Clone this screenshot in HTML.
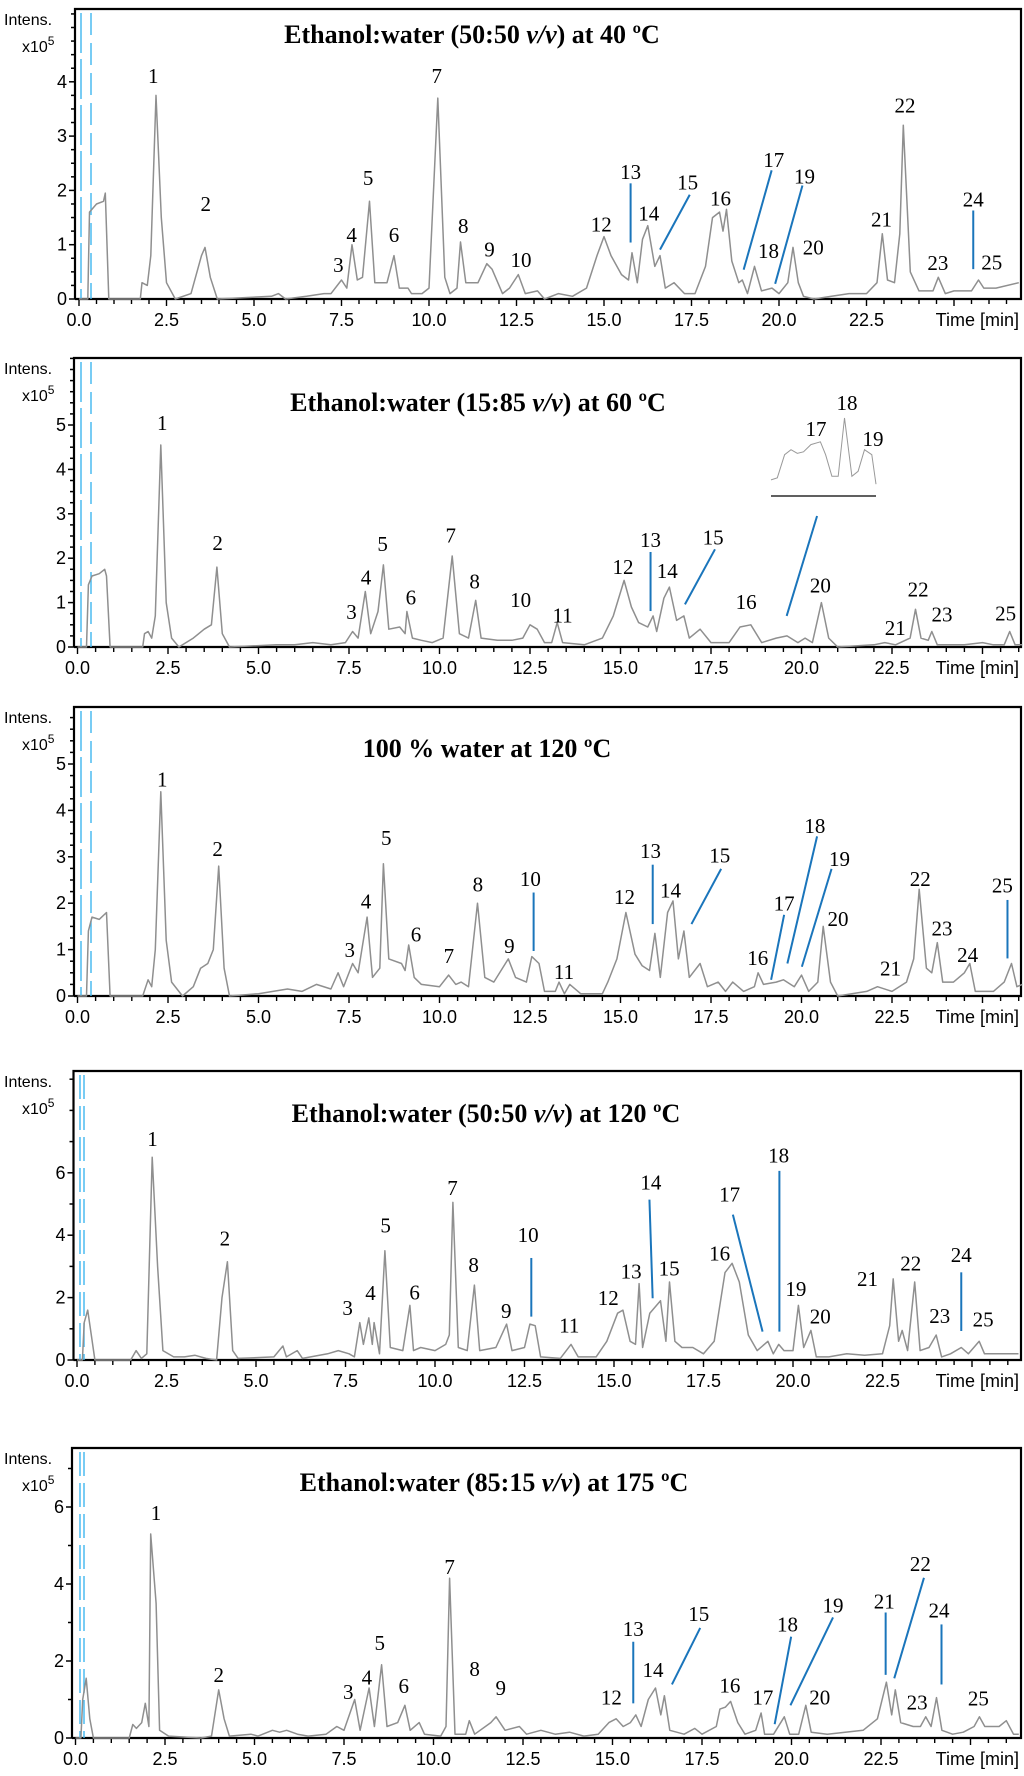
<!DOCTYPE html>
<html><head><meta charset="utf-8"><style>
html,body{margin:0;padding:0;background:#fff}
svg{display:block}
.tk{font-family:"Liberation Sans",sans-serif;font-size:18px;fill:#000}
.ttl{font-family:"Liberation Serif",serif;font-weight:bold;font-size:26px;fill:#000}
.pk{font-family:"Liberation Serif",serif;font-size:21px;fill:#000}
</style></head><body>
<svg id="chart" width="1024" height="1776" viewBox="0 0 1024 1776" xmlns="http://www.w3.org/2000/svg"></svg>
<script>
// ---------- DATA (time [min], intensity [x10^5]) ----------
const titles = ["Ethanol:water  (50:50 |v/v|) at 40 ºC","Ethanol:water  (15:85 |v/v|) at 60 ºC","100 % water at 120 ºC","Ethanol:water  (50:50 |v/v|) at 120 ºC","Ethanol:water  (85:15 |v/v|) at 175 ºC"];
const xTickLabels = ["0.0","2.5","5.0","7.5","10.0","12.5","15.0","17.5","20.0","22.5"];
const yTicks1 = [0,1,2,3,4];
const yTicks2 = [0,1,2,3,4,5];
const yTicks3 = [0,1,2,3,4,5];
const yTicks4 = [0,2,4,6];
const yTicks5 = [0,2,4,6];

const p1Trace = [[0,0],[0.25,0],[0.3,1.6],[0.5,1.75],[0.7,1.8],[0.75,1.95],[0.85,0],[1.75,0],[1.8,0.3],[1.95,0.25],[2.05,0.8],[2.2,3.75],[2.35,1.5],[2.5,0.3],[2.75,0],[3.2,0.1],[3.5,0.8],[3.6,0.95],[3.75,0.4],[3.95,0],[5.5,0.05],[5.7,0.1],[5.9,0],[6.5,0.05],[7,0.1],[7.2,0.1],[7.5,0.35],[7.65,0.2],[7.8,1.0],[7.95,0.35],[8.1,0.4],[8.3,1.8],[8.45,0.3],[8.8,0.3],[9.0,0.8],[9.15,0.2],[9.4,0.2],[9.5,0.1],[9.8,0.1],[10.0,0.2],[10.25,3.7],[10.45,0.4],[10.6,0.1],[10.8,0.2],[10.9,1.05],[11.05,0.3],[11.4,0.3],[11.65,0.65],[11.8,0.55],[12.1,0.1],[12.3,0.2],[12.55,0.45],[12.75,0.1],[13.1,0.15],[13.3,0],[13.7,0.1],[14.1,0.05],[14.5,0.2],[14.8,0.8],[15.0,1.15],[15.2,0.8],[15.5,0.45],[15.7,0.35],[15.8,0.85],[15.95,0.3],[16.1,1.1],[16.25,1.35],[16.45,0.6],[16.6,0.8],[16.75,0.2],[17.0,0.3],[17.3,0.1],[17.6,0.1],[17.9,0.6],[18.1,1.5],[18.3,1.6],[18.4,1.25],[18.5,1.65],[18.65,0.7],[18.85,0.3],[18.95,0.35],[19.1,0.1],[19.3,0.6],[19.5,0.15],[19.8,0.2],[20.0,0.1],[20.25,0.3],[20.4,0.95],[20.55,0.3],[20.7,0.05],[21.0,0],[21.5,0.05],[22,0.1],[22.5,0.1],[22.8,0.3],[22.95,1.2],[23.1,0.35],[23.3,0.3],[23.45,1.2],[23.55,3.2],[23.75,0.5],[24.0,0.15],[24.4,0.15],[24.55,0.4],[24.75,0.1],[25.0,0.15],[25.5,0.15],[25.7,0.35],[25.85,0.2],[26.2,0.2],[26.85,0.3]];
const p1Labels = [[1,2.12,4.11],[2,3.62,1.75],[3,7.41,0.63],[4,7.79,1.18],[5,8.26,2.23],[6,9.0,1.18],[7,10.22,4.11],[8,10.98,1.34],[9,11.73,0.91],[10,12.63,0.72],[12,14.92,1.37],[13,15.76,2.34],[14,16.28,1.57],[15,17.39,2.15],[16,18.33,1.85],[17,19.85,2.56],[18,19.7,0.88],[19,20.73,2.26],[20,20.98,0.95],[21,22.93,1.46],[22,23.6,3.56],[23,24.54,0.66],[24,25.55,1.83],[25,26.08,0.67]];
const p1Leaders = [[15.76,2.13,15.76,1.04],[17.45,1.92,16.6,0.91],[19.79,2.37,18.99,0.54],[20.67,2.09,19.89,0.28],[25.55,1.63,25.55,0.55]];

const p2Trace = [[0,0],[0.25,0],[0.3,1.4],[0.4,1.6],[0.6,1.65],[0.75,1.75],[0.8,1.6],[0.9,0],[1.8,0],[1.85,0.3],[1.95,0.35],[2.05,0.2],[2.15,0.7],[2.3,4.55],[2.45,1.0],[2.6,0.2],[2.8,0],[3.2,0.2],[3.5,0.4],[3.7,0.5],[3.85,1.8],[4.0,0.3],[4.2,0],[5.5,0.05],[6.0,0.05],[6.5,0.1],[7.0,0.05],[7.4,0.1],[7.6,0.35],[7.75,0.2],[7.95,1.25],[8.1,0.3],[8.3,0.8],[8.45,1.85],[8.6,0.4],[8.9,0.45],[9.05,0.3],[9.1,0.8],[9.25,0.2],[9.5,0.15],[9.8,0.1],[10.1,0.2],[10.35,2.05],[10.55,0.3],[10.8,0.2],[11.0,1.05],[11.15,0.2],[11.6,0.15],[12.0,0.15],[12.3,0.2],[12.5,0.5],[12.7,0.4],[12.9,0.1],[13.1,0.1],[13.25,0.55],[13.4,0.1],[14,0.05],[14.5,0.2],[14.8,0.7],[15.1,1.5],[15.3,0.9],[15.5,0.55],[15.75,0.45],[15.9,0.7],[16.0,0.35],[16.2,1.1],[16.35,1.35],[16.55,0.6],[16.75,0.7],[16.9,0.2],[17.2,0.4],[17.5,0.1],[18,0.1],[18.3,0.45],[18.6,0.5],[18.9,0.1],[19.3,0.2],[19.6,0.25],[19.9,0.1],[20.1,0.2],[20.3,0.1],[20.55,1.0],[20.75,0.2],[21,0],[22,0.05],[22.3,0.1],[22.6,0.05],[23.0,0.2],[23.15,0.85],[23.3,0.2],[23.5,0.15],[23.6,0.35],[23.75,0.05],[24.5,0.05],[25.0,0.1],[25.3,0.05],[25.6,0.05],[25.75,0.35],[25.9,0.05],[26.1,0.05]];
const p2Labels = [[1,2.34,5.04],[2,3.87,2.34],[3,7.57,0.79],[4,7.97,1.57],[5,8.43,2.32],[6,9.21,1.11],[7,10.31,2.51],[8,10.97,1.48],[10,12.24,1.06],[11,13.4,0.71],[12,15.07,1.8],[13,15.83,2.41],[14,16.29,1.71],[15,17.56,2.47],[16,18.47,1.01],[20,20.52,1.39],[21,22.59,0.43],[22,23.22,1.3],[23,23.88,0.73],[25,25.64,0.75]];
const p2Leaders = [[15.83,2.14,15.83,0.81],[17.61,2.2,16.78,0.96],[20.43,2.95,19.59,0.7]];
const insetPos = [0,0.06,0.13,0.19,0.25,0.31,0.38,0.47,0.52,0.58,0.64,0.7,0.77,0.83,0.89,0.96,1];
const insetVal = [0.14,0.17,0.49,0.56,0.51,0.53,0.63,0.67,0.49,0.19,0.19,1,0.19,0.26,0.56,0.49,0.08];

const p3Trace = [[0,0],[0.25,0],[0.3,1.4],[0.4,1.7],[0.6,1.65],[0.8,1.8],[0.9,0],[1.8,0],[1.95,0.35],[2.05,0.2],[2.15,1.0],[2.3,4.4],[2.45,1.2],[2.6,0.3],[2.9,0],[3.2,0.2],[3.4,0.6],[3.6,0.7],[3.75,1.0],[3.9,2.8],[4.05,0.6],[4.2,0],[5,0.05],[5.8,0.15],[6.2,0.1],[6.6,0.25],[7.0,0.15],[7.2,0.5],[7.35,0.2],[7.6,0.7],[7.75,0.5],[8.0,1.7],[8.15,0.4],[8.35,0.6],[8.45,2.85],[8.6,0.8],[8.95,0.7],[9.05,0.55],[9.15,1.1],[9.3,0.4],[9.5,0.25],[10,0.2],[10.25,0.45],[10.45,0.25],[10.6,0.3],[10.8,0.2],[11.05,2.0],[11.25,0.4],[11.5,0.3],[11.9,0.8],[12.1,0.4],[12.4,0.3],[12.55,0.85],[12.75,0.7],[12.9,0.1],[13.2,0.1],[13.3,0.3],[13.45,0.05],[13.6,0.25],[13.9,0.05],[14.5,0.05],[14.65,0.3],[14.9,0.8],[15.15,1.8],[15.4,0.9],[15.6,0.65],[15.8,0.55],[15.95,1.35],[16.1,0.4],[16.3,1.8],[16.45,2.05],[16.6,0.8],[16.75,1.4],[16.9,0.4],[17.2,0.7],[17.4,0.2],[17.7,0.3],[17.9,0.1],[18.1,0.3],[18.4,0.1],[18.7,0.2],[18.8,0.5],[18.95,0.25],[19.3,0.3],[19.5,0.35],[19.8,0.2],[20,0.45],[20.2,0.1],[20.45,0.3],[20.6,1.5],[20.8,0.3],[21,0],[21.8,0.1],[22.1,0.2],[22.5,0.1],[22.9,0.3],[23.1,0.8],[23.25,2.3],[23.45,0.6],[23.6,0.5],[23.75,1.15],[23.9,0.3],[24.2,0.3],[24.5,0.5],[24.65,0.7],[24.8,0.1],[25.3,0.1],[25.6,0.3],[25.8,0.7],[25.95,0.2],[26.1,0.25]];
const p3Labels = [[1,2.34,4.67],[2,3.87,3.17],[3,7.52,0.99],[4,7.97,2.04],[5,8.53,3.41],[6,9.35,1.33],[7,10.26,0.86],[8,11.06,2.4],[9,11.93,1.08],[10,12.51,2.52],[11,13.44,0.52],[12,15.11,2.13],[13,15.83,3.12],[14,16.38,2.27],[15,17.74,3.03],[16,18.79,0.82],[17,19.52,1.99],[18,20.37,3.66],[19,21.05,2.95],[20,21.01,1.66],[21,22.46,0.59],[22,23.28,2.52],[23,23.88,1.46],[24,24.59,0.88],[25,25.55,2.38]];
const p3Leaders = [[12.6,2.23,12.6,0.97],[15.89,2.83,15.89,1.55],[17.78,2.74,16.96,1.55],[19.52,1.75,19.16,0.35],[20.43,3.44,19.61,0.7],[20.83,2.74,20.01,0.63],[25.69,2.07,25.69,0.81]];

const p4Trace = [[0,0],[0.15,0],[0.2,1.2],[0.3,1.6],[0.4,0.8],[0.5,0],[1.5,0],[1.65,0.3],[1.8,0.05],[1.95,0.2],[2.1,6.5],[2.25,3.0],[2.4,0.3],[2.7,0.1],[3.0,0.1],[3.3,0.15],[3.6,0.05],[3.9,0],[4.05,2.0],[4.2,3.15],[4.35,0.3],[4.5,0.05],[5.5,0.1],[5.75,0.45],[5.85,0.1],[6.15,0.3],[6.3,0.05],[7.0,0.2],[7.3,0.3],[7.6,0.2],[7.75,0.1],[7.9,1.2],[8.0,0.5],[8.15,1.35],[8.25,0.5],[8.3,1.2],[8.45,0.2],[8.6,3.5],[8.75,0.4],[9.1,0.3],[9.3,1.75],[9.4,0.3],[9.6,0.4],[10.0,0.3],[10.3,0.5],[10.4,0.8],[10.5,5.05],[10.65,0.4],[10.9,0.3],[11.1,2.4],[11.25,0.3],[11.7,0.4],[11.9,0.9],[12.0,1.15],[12.15,0.3],[12.5,0.4],[12.65,1.15],[12.8,1.1],[12.95,0.1],[13.5,0.05],[13.8,0.5],[14.0,0.1],[14.5,0.1],[14.8,0.6],[15.1,1.5],[15.25,1.6],[15.45,0.6],[15.6,0.5],[15.7,2.45],[15.8,0.4],[16.0,1.5],[16.3,1.9],[16.45,0.6],[16.55,2.5],[16.7,0.6],[16.9,0.4],[17.2,0.4],[17.5,0.2],[17.8,0.6],[18.1,2.8],[18.3,3.1],[18.5,2.5],[18.75,0.8],[19.0,0.3],[19.3,0.6],[19.45,0.2],[19.6,0.5],[19.75,0.3],[20.0,0.3],[20.15,1.75],[20.3,0.4],[20.5,0.95],[20.65,0.1],[21,0.1],[21.5,0.2],[22,0.15],[22.5,0.2],[22.7,1.1],[22.8,2.6],[22.95,0.6],[23.05,0.95],[23.2,0.3],[23.4,2.5],[23.55,0.3],[23.8,0.4],[24.0,0.8],[24.15,0.1],[24.4,0.2],[24.7,0.4],[24.9,0.2],[25.2,0.6],[25.35,0.2],[25.8,0.2],[26.3,0.2]];
const p4Labels = [[1,2.11,7.08],[2,4.13,3.9],[3,7.56,1.66],[4,8.2,2.14],[5,8.62,4.31],[6,9.43,2.16],[7,10.49,5.51],[8,11.08,3.05],[9,11.99,1.57],[10,12.6,4.01],[11,13.75,1.1],[12,14.84,1.98],[13,15.48,2.83],[14,16.03,5.69],[15,16.54,2.94],[16,17.95,3.42],[17,18.23,5.3],[18,19.6,6.55],[19,20.08,2.27],[20,20.76,1.39],[21,22.08,2.59],[22,23.29,3.1],[23,24.1,1.41],[24,24.7,3.37],[25,25.31,1.3]];
const p4Leaders = [[12.69,3.27,12.69,1.39],[15.99,5.14,16.08,1.98],[18.32,4.66,19.15,0.91],[19.62,6.06,19.62,0.91],[24.7,2.81,24.7,0.93]];

const p5Trace = [[0,0],[0.15,0],[0.2,1.0],[0.3,1.55],[0.4,0.5],[0.5,0],[1.5,0],[1.6,0.35],[1.7,0.25],[1.85,0.4],[1.95,0.9],[2.05,0.3],[2.1,5.3],[2.25,3.5],[2.35,0.2],[2.6,0.05],[3.5,0],[3.8,0.05],[4.0,1.25],[4.15,0.5],[4.3,0.05],[4.9,0.1],[5.1,0.05],[5.5,0.2],[5.7,0.15],[5.9,0.2],[6.2,0.1],[6.5,0.05],[7,0.1],[7.3,0.3],[7.5,0.2],[7.8,1.0],[7.95,0.2],[8.2,1.3],[8.35,0.3],[8.55,1.9],[8.7,0.3],[9.0,0.4],[9.2,0.85],[9.35,0.2],[9.6,0.4],[9.75,0.1],[10.2,0.05],[10.35,0.3],[10.45,4.15],[10.6,0.1],[10.9,0.1],[11.0,0.45],[11.15,0.1],[11.6,0.4],[11.75,0.55],[12.0,0.2],[12.4,0.3],[12.6,0.1],[13.0,0.2],[13.4,0.1],[13.8,0.15],[14.2,0.05],[14.6,0.1],[14.9,0.4],[15.1,0.5],[15.3,0.3],[15.5,0.4],[15.65,0.6],[15.8,0.3],[16.0,1.0],[16.2,1.3],[16.35,0.6],[16.45,1.1],[16.6,0.2],[17.0,0.1],[17.3,0.25],[17.5,0.1],[17.9,0.3],[18.0,0.75],[18.15,0.8],[18.3,0.95],[18.5,0.4],[18.7,0.1],[19.0,0.2],[19.15,0.65],[19.25,0.1],[19.5,0.1],[19.8,0.55],[19.95,0.1],[20.2,0.1],[20.4,0.85],[20.55,0.15],[21,0.1],[21.5,0.15],[22.0,0.2],[22.4,0.5],[22.65,1.45],[22.8,0.6],[22.9,1.25],[23.05,0.4],[23.4,0.3],[23.6,0.3],[23.75,0.55],[23.9,0.3],[24.05,1.05],[24.2,0.2],[24.5,0.1],[24.8,0.15],[25.1,0.3],[25.25,0.55],[25.4,0.3],[25.8,0.3],[26.0,0.45],[26.2,0.1],[26.35,0.1]];
const p5Labels = [[1,2.25,5.84],[2,4.0,1.64],[3,7.62,1.19],[4,8.14,1.57],[5,8.5,2.47],[6,9.17,1.35],[7,10.45,4.44],[8,11.15,1.79],[9,11.88,1.3],[12,14.97,1.05],[13,15.58,2.83],[14,16.13,1.77],[15,17.41,3.22],[16,18.28,1.37],[17,19.2,1.05],[18,19.89,2.95],[19,21.16,3.44],[20,20.79,1.05],[21,22.59,3.55],[22,23.6,4.52],[23,23.51,0.92],[24,24.12,3.31],[25,25.22,1.03]];
const p5Leaders = [[15.58,2.5,15.58,0.9],[17.45,2.86,16.66,1.39],[19.99,2.63,19.53,0.36],[21.16,3.13,19.97,0.85],[22.63,3.26,22.63,1.64],[23.7,4.16,22.87,1.55],[24.19,2.95,24.19,1.39]];

// ---------- GEOMETRY ----------
const panels = [
 {trace:p1Trace,labels:p1Labels,leaders:p1Leaders,yTicks:yTicks1,minor:0.25,top:9,axisY:299,left:75,x0:79,pxMin:35,pxUnit:54.3,titleX:472,titleY:43,dbl:false},
 {trace:p2Trace,labels:p2Labels,leaders:p2Leaders,yTicks:yTicks2,minor:0.25,top:358,axisY:647,left:74,x0:77.5,pxMin:36.2,pxUnit:44.4,titleX:478,titleY:411,dbl:false,inset:true},
 {trace:p3Trace,labels:p3Labels,leaders:p3Leaders,yTicks:yTicks3,minor:0.25,top:707,axisY:996,left:74,x0:77.5,pxMin:36.2,pxUnit:46.4,titleX:487,titleY:757,dbl:false},
 {trace:p4Trace,labels:p4Labels,leaders:p4Leaders,yTicks:yTicks4,minor:1,top:1071,axisY:1360,left:73.5,x0:77,pxMin:35.8,pxUnit:31.2,titleX:486,titleY:1122,dbl:true},
 {trace:p5Trace,labels:p5Labels,leaders:p5Leaders,yTicks:yTicks5,minor:1,top:1448,axisY:1738,left:72,x0:75.5,pxMin:35.8,pxUnit:38.5,titleX:494,titleY:1491,dbl:true}
];
const RIGHT = 1021;
const NS = "http://www.w3.org/2000/svg";
const svg = document.getElementById('chart');
function mk(tag, attrs, parent){const e=document.createElementNS(NS,tag);for(const k in attrs)e.setAttribute(k,attrs[k]);(parent||svg).appendChild(e);return e;}

panels.forEach((p,i)=>{
  const g = mk('g',{});
  
  
  const X = t => p.x0 + t*p.pxMin;
  const Y = v => p.axisY - v*p.pxUnit;
  const fr = mk('path',{d:`M${p.left},${p.axisY} V${p.top} H${RIGHT} V${p.axisY} H${p.left}`,fill:'none',stroke:'#000','stroke-width':2.2},g);
  
  
  const bx = p.dbl ? [80,84] : [81,91];
  bx.forEach((x,j)=>{
    const l = mk('line',{x1:x,x2:x,y1:p.top+4,y2:p.axisY,stroke:'#3fb7f0','stroke-width':1.4,'stroke-dasharray':(p.dbl?'24,7':(j? '22,8':'40,6'))},g);
    
    
  });
  const yMaxV = (p.axisY - p.top)/p.pxUnit;
  for(let v=0; v<=yMaxV; v+=p.minor){
    const major = Math.abs(v-Math.round(v))<1e-6 && p.yTicks.includes(Math.round(v));
    mk('line',{x1:p.left-(major?6:4),x2:p.left,y1:Y(v),y2:Y(v),stroke:'#000','stroke-width':1.5},g);
  }
  p.yTicks.forEach(v=>{
    const t = mk('text',{x:p.left-8,y:Y(v)+6,'text-anchor':'end',class:'tk'},g);
    t.textContent = v;
    
    
  });
  const it = mk('text',{x:4,y:p.top+16,class:'tk',style:'font-size:16px'},g);
  it.textContent='Intens.';
  
  
  const xs = mk('text',{x:22,y:p.top+43,class:'tk',style:'font-size:16px'},g);
  xs.innerHTML='x10<tspan dy="-7" style="font-size:12px">5</tspan>';
  
  
  for(let t=0; X(t) < RIGHT-2; t+=0.5){
    const major = Math.abs(t/2.5 - Math.round(t/2.5))<1e-6;
    mk('line',{x1:X(t),x2:X(t),y1:p.axisY,y2:p.axisY+(major?7:5),stroke:'#000','stroke-width':1.4},g);
  }
  xTickLabels.forEach((lab,k)=>{
    const t = mk('text',{x:X(k*2.5),y:p.axisY+27,'text-anchor':'middle',class:'tk'},g);
    t.textContent = lab;
    
    
  });
  const tl = mk('text',{x:RIGHT-2,y:p.axisY+27,'text-anchor':'end',class:'tk'},g);
  tl.textContent='Time [min]';
  
  
  const parts = titles[i].split('|');
  const ti = mk('text',{x:p.titleX,y:p.titleY,'text-anchor':'middle',class:'ttl'},g);
  ti.setAttribute('xml:space','preserve');
  ti.innerHTML = parts.length>1 ? `${parts[0]}<tspan font-style="italic">${parts[1]}</tspan>${parts[2]}` : parts[0];
  
  
  const d = p.trace.map((pt,k)=>(k?'L':'M')+X(pt[0]).toFixed(1)+','+Y(pt[1]).toFixed(1)).join(' ');
  const tr = mk('path',{d:d,fill:'none',stroke:'#8f8f8f','stroke-width':1.5,'stroke-linejoin':'round'},g);
  
  
  p.leaders.forEach(L=>{
    const l = mk('line',{x1:X(L[0]),y1:Y(L[1]),x2:X(L[2]),y2:Y(L[3]),stroke:'#1a75bb','stroke-width':2},g);
    
    
  });
  p.labels.forEach(L=>{
    const t = mk('text',{x:X(L[1]),y:Y(L[2])+7,'text-anchor':'middle',class:'pk'},g);
    t.textContent = L[0];
    
    
  });
  if(p.inset){
    const ix0=771, ix1=876, iy=496, ih=72;
    const ig = mk('g',{},g);
    
    
    const dd = insetPos.map((f,k)=>(k?'L':'M')+(ix0+f*(ix1-ix0)).toFixed(1)+','+(iy-6-insetVal[k]*ih).toFixed(1)).join(' ');
    mk('path',{d:dd,fill:'none',stroke:'#999','stroke-width':1},ig);
    mk('line',{x1:ix0,x2:ix1,y1:iy,y2:iy,stroke:'#000','stroke-width':1.2},ig);
    [[17,816,436],[18,847,410],[19,873,446]].forEach(L=>{
      const t = mk('text',{x:L[1],y:L[2],'text-anchor':'middle',class:'pk'},ig);
      t.textContent=L[0];
      
      
    });
  }
});
</script>
</body></html>
